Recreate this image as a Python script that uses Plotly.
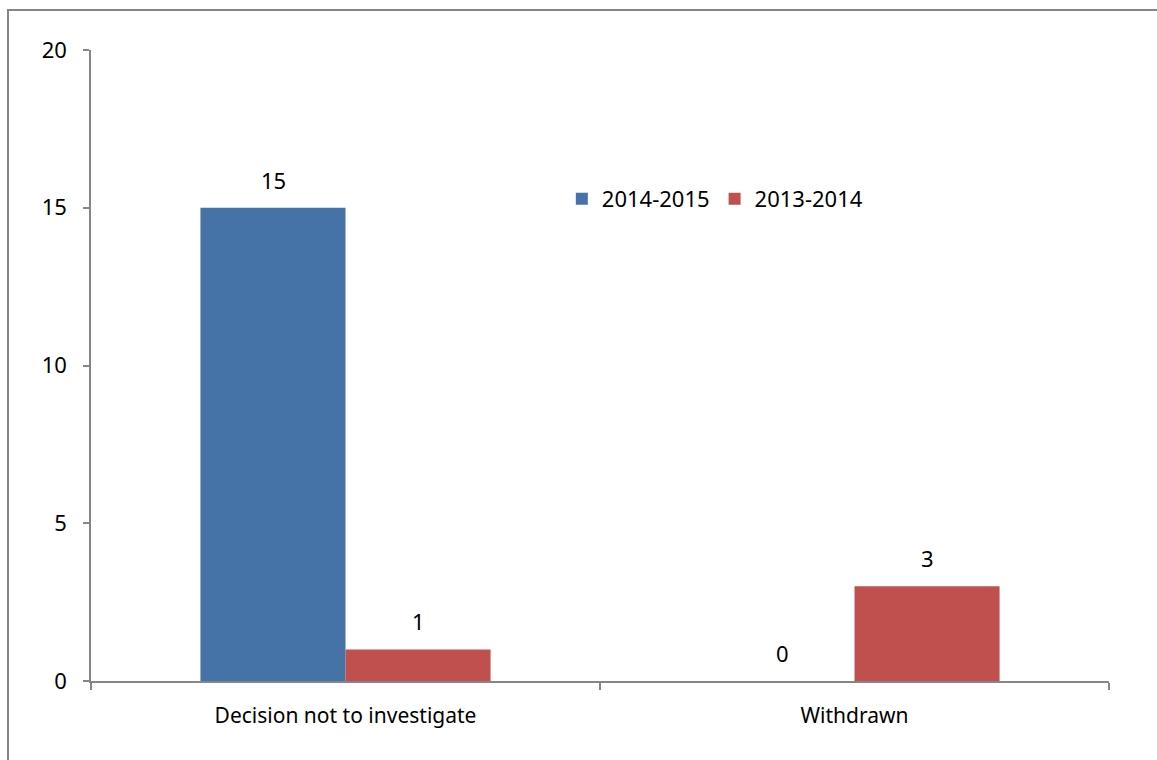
import plotly.graph_objects as go

categories = ["Decision not to investigate", "Withdrawn"]
series_names = ["2014-2015", "2013-2014"]
values_2014_2015 = [15, 0]
values_2013_2014 = [1, 3]
y_ticks = [0, 5, 10, 15, 20]

FONT = "Noto Sans, Liberation Sans, sans-serif"
FS = 21
FSN = 22
colors = ["#4572A7", "#C0504D"]

fig = go.Figure()
annotations = []
series = [values_2014_2015, values_2013_2014]
for idx, (name, vals, col) in enumerate(zip(series_names, series, colors)):
    fig.add_trace(go.Bar(
        x=categories, y=vals, name=name, marker=dict(color=col, line=dict(width=0)),
    ))
    shift = -72.5 if idx == 0 else 72.5
    for c, v in zip(categories, vals):
        annotations.append(dict(x=c, y=v, xref="x", yref="y", text=str(v), showarrow=False,
                                xshift=shift, yshift=28, yanchor="middle",
                                font=dict(family=FONT, size=FSN, color="black")))

fig.update_layout(
    width=1157, height=760,
    margin=dict(l=91, r=48, t=50, b=79),
    paper_bgcolor="white", plot_bgcolor="white",
    barmode="group", bargap=0.43, bargroupgap=0,
    font=dict(family=FONT, size=FS, color="black"),
    showlegend=True,
    annotations=annotations,
    legend=dict(orientation="h", x=0.4625, xanchor="left", y=0.764, yanchor="middle",
                font=dict(family=FONT, size=FSN), itemwidth=30, tracegroupgap=0,
                bgcolor="rgba(0,0,0,0)"),
    xaxis=dict(showline=True, linecolor="#868686", linewidth=1.5, ticks="outside",
               tickson="boundaries", ticklen=7, tickcolor="#868686", tickwidth=1.5,
               showgrid=False, tickfont=dict(size=FS), ticklabelstandoff=15),
    yaxis=dict(range=[0, 20], tickvals=y_ticks, showline=True, linecolor="#868686",
               linewidth=1.5, ticks="outside", ticklen=6, tickcolor="#868686",
               tickwidth=1.5, showgrid=False, zeroline=False, tickfont=dict(size=FSN),
               ticklabelstandoff=12),
    shapes=[dict(type="rect", xref="paper", yref="paper",
                 x0=-83/1018, x1=1.2, y0=-0.3, y1=1 + 40/631,
                 line=dict(color="#868686", width=2), fillcolor="rgba(0,0,0,0)", layer="below")],
)

fig.write_html("out.html")
